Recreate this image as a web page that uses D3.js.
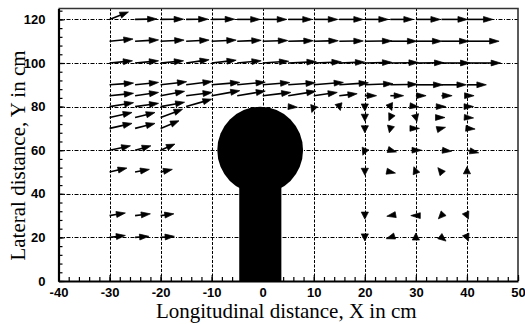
<!DOCTYPE html>
<html><head><meta charset="utf-8">
<script src="https://cdn.jsdelivr.net/npm/d3@7/dist/d3.min.js"></script>
<style>html,body{margin:0;padding:0;background:#fff;}svg{display:block;}</style>
</head><body>
<svg id="chart" width="525" height="324"></svg>
<script>
// ---------- data ----------
const xTickLabels = [-40,-30,-20,-10,0,10,20,30,40,50];
const yTickLabels = [0,20,40,60,80,100,120];
const xGrid = [-30,-20,-10,0,10,20,30,40];
const yGrid = [20,40,60,80,100,120];

// obstacle: cylinder head (circle) + stem
const headCenterX = -0.5, headCenterY = 60, headRadiusX = 8.4, headRadiusY = 19.9;
const stemLeft = -4.6, stemRight = 3.65, stemBottom = 0, stemTop = 60;

// station positions
const xsFull = [-30,-25,-20,-15,-10,-5,0,5,10,15,20,25,30,35,40];
const xsLeft = [-30,-25,-20];
const xsWake = [20,25,30,35,40];
const xs80L = [-30,-25,-20,-15];
const xs80R = [5,10,15,20,25,30,35,40];

// velocity components (u: X, v: Y) per row
const u120 = [3.7,4.3,4.5,4.3,4.5,4.5,4.7,4.7,4.7,4.7,4.6,4.5,4.8,5.1,5.1];
const v120 = [3.4,0.2,0.1,0.1,0.1,0,0,0,0,0,0,0,0,0,0];
const u110 = [4.6,4.6,4.6,4.5,4.8,4.7,4.9,4.9,4.8,4.7,5.3,5.2,5.1,5.4,6.3];
const v110 = [1.0,0.6,0.5,0.5,0.5,0.4,0.3,0.2,0.2,0.1,0.1,0,0,0,0];
const u100 = [4.5,4.6,4.5,4.5,4.8,4.7,5.1,5.5,5.4,5.0,5.3,5.5,5.5,5.6,6.6];
const v100 = [1.0,1.0,1.0,1.5,1.3,1.0,0.8,0.6,0.5,0.4,0.3,0.2,0.1,0,0];
const u90 = [4.7,4.6,5.1,5.1,5.5,5.5,5.3,5.3,5.8,5.7,5.5,5.3,5.3,4.9,3.8];
const v90 = [0.8,1.1,1.4,1.5,1.1,1.2,1.0,0.9,1.1,0.9,0.5,0.2,0,0,0];
const u85 = [4.7,4.6,4.7,5.1,5.5,5.5,5.5,5.4,4.6,3.5,2.3,2.6,2.0,2.1,1.4];
const v85 = [1.1,1.5,2.0,1.5,2.3,2.1,1.5,2.0,1.5,0.9,0,0,0,0,0];
const u80L = [4.7,4.6,4.7,5.0];
const v80L = [1.8,1.5,2.0,3.4];
const u80R = [1.8,-0.4,0.2,0,0.3,0.6,0.85,1.3];
const v80R = [-0.3,-2.7,-1.8,-2.0,-1.8,-0.2,0,0];
const u75L = [4.4,3.9,4.3];
const v75L = [2.3,2.3,3.8];
const u75R = [0,-0.3,0.2,0.7,1.3];
const v75R = [-1.7,-1.5,-1.8,0,-0.2];
const u70L = [4.4,3.9,3.6];
const v70L = [2.3,2.3,3.5];
const u70R = [0,-0.2,0.7,0.8,1.6];
const v70R = [-2.0,-2.0,0,0.5,-0.3];
const u60L = [4.1,3.1,2.8];
const v60L = [2.0,2.0,2.8];
const u60R = [-0.4,1.2,1.1,2.0,2.3];
const v60R = [-2.3,-0.8,0,-0.5,-1.2];
const u50L = [3.4,2.8,2.3];
const v50L = [1.8,1.2,1.2];
const u50R = [0,1.0,-0.4,-0.7,0];
const v50R = [-1.5,-0.5,2.4,2.0,2.4];
const u30L = [3.1,3.0,2.6];
const v30L = [1.2,0.8,0.8];
const u30R = [0,-0.7,-1.0,-0.6,0.3];
const v30R = [-1.6,-0.3,0,-1.5,-1.6];
const u20L = [3.1,2.7,2.7];
const v20L = [0.9,0.5,0.5];
const u20R = [0,-0.8,0,0.9,0.3];
const v20R = [-1.6,-0.6,2.0,-1.7,-1.7];

const rows = [
  {y:120, xs:xsFull, u:u120, v:v120},
  {y:110, xs:xsFull, u:u110, v:v110},
  {y:100, xs:xsFull, u:u100, v:v100},
  {y:90,  xs:xsFull, u:u90,  v:v90},
  {y:85,  xs:xsFull, u:u85,  v:v85},
  {y:80,  xs:xs80L,  u:u80L, v:v80L},
  {y:80,  xs:xs80R,  u:u80R, v:v80R},
  {y:75,  xs:xsLeft, u:u75L, v:v75L},
  {y:75,  xs:xsWake, u:u75R, v:v75R},
  {y:70,  xs:xsLeft, u:u70L, v:v70L},
  {y:70,  xs:xsWake, u:u70R, v:v70R},
  {y:60,  xs:xsLeft, u:u60L, v:v60L},
  {y:60,  xs:xsWake, u:u60R, v:v60R},
  {y:50,  xs:xsLeft, u:u50L, v:v50L},
  {y:50,  xs:xsWake, u:u50R, v:v50R},
  {y:30,  xs:xsLeft, u:u30L, v:v30L},
  {y:30,  xs:xsWake, u:u30R, v:v30R},
  {y:20,  xs:xsLeft, u:u20L, v:v20L},
  {y:20,  xs:xsWake, u:u20R, v:v20R}
];
const vectors = [];
rows.forEach(r => r.xs.forEach((xv,i) => vectors.push({x:xv, y:r.y, u:r.u[i], v:r.v[i]})));

// ---------- drawing ----------
const svg = d3.select('#chart');
const x = d3.scaleLinear().domain([-40,50]).range([58.5,518]);
const y = d3.scaleLinear().domain([0,125]).range([281,8.5]);
const [x0,x1] = x.range(), [y0,y1] = y.range();

// grid
svg.append('g').selectAll('line').data(xGrid).join('line')
  .attr('x1',d=>Math.round(x(d))+0.5).attr('x2',d=>Math.round(x(d))+0.5)
  .attr('y1',y0).attr('y2',y1)
  .attr('stroke','#000').attr('stroke-width',1).attr('stroke-dasharray','3,1.5');
svg.append('g').selectAll('line').data(yGrid).join('line')
  .attr('y1',d=>Math.round(y(d))+0.5).attr('y2',d=>Math.round(y(d))+0.5)
  .attr('x1',x0).attr('x2',x1)
  .attr('stroke','#000').attr('stroke-width',1).attr('stroke-dasharray','4,1.5,1,1.5');

// obstacle
svg.append('rect')
  .attr('x',x(stemLeft)).attr('width',x(stemRight)-x(stemLeft))
  .attr('y',y(stemTop)).attr('height',y(stemBottom)-y(stemTop))
  .attr('fill','#000');
svg.append('ellipse')
  .attr('cx',x(headCenterX)).attr('cy',y(headCenterY))
  .attr('rx',x(headCenterX+headRadiusX)-x(headCenterX))
  .attr('ry',y(headCenterY)-y(headCenterY+headRadiusY))
  .attr('fill','#000');

// vectors
const ag = svg.append('g');
vectors.forEach(d => {
  const tx = x(d.x), ty = y(d.y);
  const hx = x(d.x+d.u), hy = y(d.y+d.v);
  const dx = hx-tx, dy = hy-ty, L = Math.hypot(dx,dy) || 1;
  const ux = dx/L, uy = dy/L;
  const headLen = 9.5 - 2.5*Math.abs(uy);
  const headHalf = 2.9 + 0.7*Math.abs(uy);
  const bx = hx-ux*headLen, by = hy-uy*headLen;
  if (L > headLen) {
    ag.append('line').attr('x1',tx).attr('y1',ty).attr('x2',bx+ux*1).attr('y2',by+uy*1)
      .attr('stroke','#000').attr('stroke-width',1.6);
  }
  ag.append('path')
    .attr('d',`M${hx},${hy}L${bx-uy*headHalf},${by+ux*headHalf}L${bx+uy*headHalf},${by-ux*headHalf}Z`)
    .attr('fill','#000').attr('stroke','#000').attr('stroke-width',0.7).attr('stroke-linejoin','round');
});

// frame (top/right)
svg.append('path').attr('d',`M${x0},${y1}H${x1}V${y0}`)
  .attr('fill','none').attr('stroke','#333').attr('stroke-width',1.6);

// axes
const xMinor = d3.range(-40,50.01,2);
const yMinor = d3.range(0,125,4);
svg.append('g').attr('transform',`translate(0,${y0})`)
  .call(d3.axisBottom(x).tickValues(xMinor).tickSizeInner(-4).tickSizeOuter(0).tickFormat(''))
  .call(g=>g.select('.domain').remove())
  .call(g=>g.selectAll('line').attr('stroke','#000').attr('stroke-width',1.2));
svg.append('g').attr('transform',`translate(${x0},0)`)
  .call(d3.axisLeft(y).tickValues(yMinor).tickSizeInner(-4).tickSizeOuter(0).tickFormat(''))
  .call(g=>g.select('.domain').remove())
  .call(g=>g.selectAll('line').attr('stroke','#000').attr('stroke-width',1.2));

const fmt = d => String(d);
const xAxis = svg.append('g').attr('transform',`translate(0,${y0})`)
  .call(d3.axisBottom(x).tickValues(xTickLabels).tickFormat(fmt).tickSizeInner(-6).tickSizeOuter(0).tickPadding(7));
xAxis.select('.domain').attr('stroke','#000').attr('stroke-width',2.2);
xAxis.selectAll('line').attr('stroke','#000').attr('stroke-width',1.2);
xAxis.selectAll('text').attr('font-family','"Liberation Sans", Arial, sans-serif')
  .attr('font-weight','bold').attr('font-size','13px').attr('fill','#000');

const yAxis = svg.append('g').attr('transform',`translate(${x0},0)`)
  .call(d3.axisLeft(y).tickValues(yTickLabels).tickFormat(fmt).tickSizeInner(-6).tickSizeOuter(0).tickPadding(13));
yAxis.select('.domain').attr('stroke','#000').attr('stroke-width',2.2);
yAxis.selectAll('line').attr('stroke','#000').attr('stroke-width',1.2);
yAxis.selectAll('text').attr('font-family','"Liberation Sans", Arial, sans-serif')
  .attr('font-weight','bold').attr('font-size','13px').attr('fill','#000');

// titles
svg.append('text').attr('x',(x(-40)+x(50))/2 - 2).attr('y',318)
  .attr('text-anchor','middle').attr('font-family','"Liberation Serif","Times New Roman",serif')
  .attr('font-size','21px').attr('fill','#000').text('Longitudinal distance, X in cm');
svg.append('text').attr('transform','translate(25,155.5) rotate(-90)')
  .attr('text-anchor','middle').attr('font-family','"Liberation Serif","Times New Roman",serif')
  .attr('font-size','21px').attr('fill','#000').text('Lateral distance, Y in cm');
</script>
</body></html>
